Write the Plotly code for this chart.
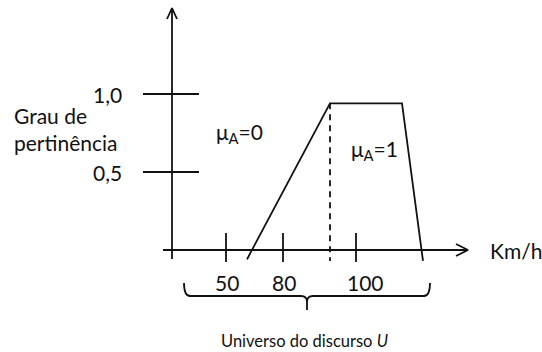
import plotly.graph_objects as go

# --- schematic values -------------------------------------------------------
# horizontal axis: schematic speed positions (diagram units) and their labels
speed_tick_labels = ["50", "80", "100"]
speed_tick_pos = [226, 283, 356]

# vertical axis: membership degree ticks
mu_tick_labels = ["0,5", "1,0"]
mu_tick_vals = [0.5, 1.0]

# trapezoidal membership function (x in diagram units, y in membership degree)
trap_x = [247, 330, 402, 423]
trap_mu = [-0.06, 0.94, 0.94, -0.07]

# region labels
region_labels = ["μ<sub>A</sub>=0", "μ<sub>A</sub>=1"]
region_x = [239, 374]
region_mu = [0.75, 0.64]

# --- layout helpers ---------------------------------------------------------
W, H = 542, 352
Y0_PX, PX_PER_UNIT = 250, 156          # pixel row of mu=0 and pixels per unit of mu


def py(p):
    """pixel row -> membership units (for decorations only)"""
    return (Y0_PX - p) / PX_PER_UNIT


INK = "#111111"
FONT = "Lato"
LW = 1.8

fig = go.Figure()


def seg(xs, ys, dash=None, width=LW):
    fig.add_trace(go.Scatter(
        x=xs, y=ys, mode="lines", hoverinfo="skip",
        line=dict(color=INK, width=width, dash=dash)))


# axes with open arrowheads
x_axis_start, x_axis_end, y_axis_x = 163, 468, 172
seg([x_axis_start, x_axis_end], [0, 0])
seg([x_axis_end - 12, x_axis_end, x_axis_end - 12], [py(244), 0, py(256)])
seg([y_axis_x, y_axis_x], [py(259), py(8)])
seg([y_axis_x - 5, y_axis_x, y_axis_x + 5], [py(19), py(8), py(19)])

# membership ticks on the vertical axis
for v in mu_tick_vals:
    seg([143, 199], [v, v])

# speed ticks on the horizontal axis
for xp in speed_tick_pos:
    seg([xp, xp], [py(233), py(262)])

# membership function
seg(trap_x, trap_mu)
seg([trap_x[1], trap_x[1]], [trap_mu[1], trap_mu[3]], dash="6px,5px")

# curly brace under the universe of discourse
bl, br, bm = 184, 430, 307
top, mid, tip = 283, 296, 310
brace = (
    f"M{bl},{py(top)} Q{bl},{py(mid)} {bl + 6},{py(mid)} "
    f"L{bm - 6},{py(mid)} Q{bm},{py(mid)} {bm},{py(mid + 6)} L{bm},{py(tip)} "
    f"M{bm},{py(mid + 6)} Q{bm},{py(mid)} {bm + 6},{py(mid)} "
    f"L{br - 6},{py(mid)} Q{br},{py(mid)} {br},{py(top)}"
)
fig.add_shape(type="path", path=brace, xref="x", yref="y",
              line=dict(color=INK, width=LW))

# --- text -------------------------------------------------------------------
def label(x, y, text, size=21, xanchor="center"):
    fig.add_annotation(x=x, y=y, text=text, showarrow=False, xref="x", yref="y",
                       xanchor=xanchor, yanchor="middle",
                       font=dict(family=FONT, size=size, color=INK))


for t, v in zip(mu_tick_labels, mu_tick_vals):
    label(124, v, t, xanchor="right")

for t, xp in zip(speed_tick_labels, speed_tick_pos):
    label(xp + 1 if t != "100" else xp + 9, py(282), t)

label(12, py(115), "Grau de", xanchor="left")
label(12, py(142), "pertinência", xanchor="left")

for t, xv, mv in zip(region_labels, region_x, region_mu):
    label(xv, mv, t)

label(488, 0, "Km/h", xanchor="left")
label(304, py(341), "Universo do discurso <i>U</i>", size=16.5)

fig.update_layout(
    width=W, height=H,
    margin=dict(l=0, r=0, t=0, b=0),
    paper_bgcolor="white", plot_bgcolor="white",
    showlegend=False,
    xaxis=dict(range=[0, W], visible=False, fixedrange=True),
    yaxis=dict(range=[py(H), py(0)], visible=False, fixedrange=True),
)

fig.write_html("out.html")
